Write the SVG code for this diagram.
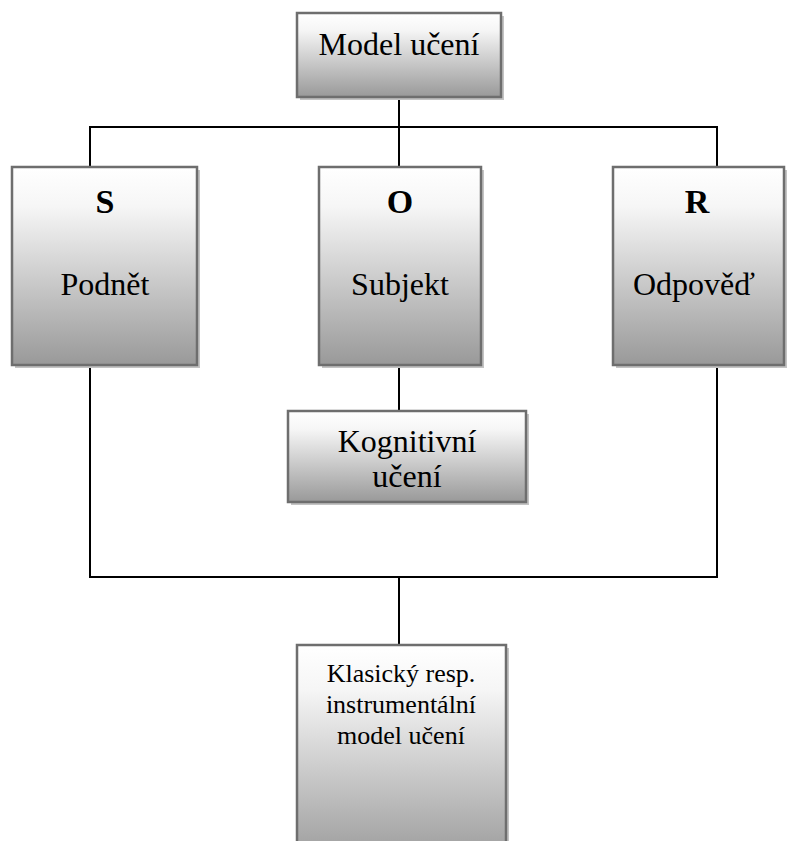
<svg xmlns="http://www.w3.org/2000/svg" width="787" height="841" viewBox="0 0 787 841">
  <defs>
    <linearGradient id="boxFill" x1="0" y1="0" x2="0" y2="1">
      <stop offset="0" stop-color="#ffffff"/>
      <stop offset="0.2" stop-color="#f6f6f6"/>
      <stop offset="1" stop-color="#999999"/>
    </linearGradient>
  </defs>
  <style>
    .shadow { fill: #c4c4c4; }
    .box { fill: url(#boxFill); stroke: #6e6e6e; stroke-width: 2.5; }
    .wire { fill: none; stroke: #000000; stroke-width: 2; }
    .lbl { font-family: "Liberation Serif", "Times New Roman", serif; fill: #000000; text-anchor: middle; }
    .big { font-size: 32px; }
    .head { font-size: 34px; font-weight: bold; }
    .small { font-size: 26px; }
  </style>

  <!-- connectors -->
  <g id="connectors">
    <polyline class="wire" points="90,167 90,127 717,127 717,167"/>
    <line class="wire" x1="399" y1="97" x2="399" y2="167"/>
    <line class="wire" x1="399" y1="365" x2="399" y2="411"/>
    <polyline class="wire" points="90,365 90,577 717,577 717,365"/>
    <line class="wire" x1="399" y1="577" x2="399" y2="645"/>
  </g>

  <!-- top node -->
  <g id="model-uceni">
    <rect class="shadow" x="300" y="16" width="204" height="84"/>
    <rect class="box" x="297" y="13" width="204" height="84"/>
    <text class="lbl big" x="399" y="55">Model učení</text>
  </g>

  <!-- stimulus -->
  <g id="node-s">
    <rect class="shadow" x="15" y="170" width="185" height="198"/>
    <rect class="box" x="12" y="167" width="185" height="198"/>
    <text class="lbl head" x="105" y="213">S</text>
    <text class="lbl big" x="105" y="295">Podnět</text>
  </g>

  <!-- organism -->
  <g id="node-o">
    <rect class="shadow" x="322" y="170" width="162" height="198"/>
    <rect class="box" x="319" y="167" width="162" height="198"/>
    <text class="lbl head" x="400" y="213">O</text>
    <text class="lbl big" x="400" y="295">Subjekt</text>
  </g>

  <!-- response -->
  <g id="node-r">
    <rect class="shadow" x="616" y="170" width="171" height="198"/>
    <rect class="box" x="613" y="167" width="171" height="198"/>
    <text class="lbl head" x="697" y="213">R</text>
    <text class="lbl big" x="694" y="295">Odpověď</text>
  </g>

  <!-- cognitive learning -->
  <g id="kognitivni-uceni">
    <rect class="shadow" x="291" y="414" width="238" height="91"/>
    <rect class="box" x="288" y="411" width="238" height="91"/>
    <text class="lbl big" x="407" y="452">Kognitivní</text>
    <text class="lbl big" x="407" y="487">učení</text>
  </g>

  <!-- classical / instrumental learning -->
  <g id="klasicky-model">
    <rect class="shadow" x="300" y="648" width="209" height="220"/>
    <rect class="box" x="297" y="645" width="209" height="220"/>
    <text class="lbl small" x="401" y="682">Klasický resp.</text>
    <text class="lbl small" x="401" y="713">instrumentální</text>
    <text class="lbl small" x="401" y="744">model učení</text>
  </g>
</svg>
